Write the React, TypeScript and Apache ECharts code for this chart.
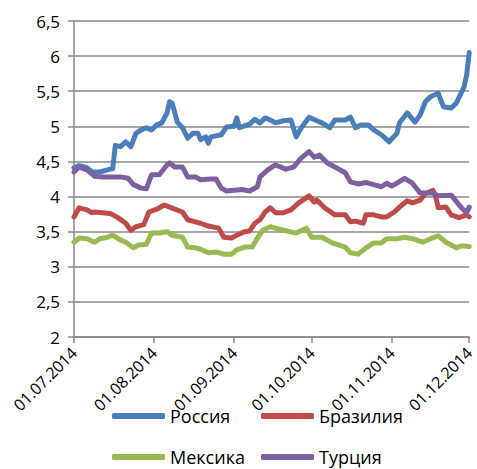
import React, { useEffect, useRef } from "react";
import * as echarts from "echarts";

const tickLabels = ["01.07.2014", "01.08.2014", "01.09.2014", "01.10.2014", "01.11.2014", "01.12.2014"];
const yTicks = { min: 2, max: 6.5, step: 0.5 };
const seriesNames = ["Россия", "Бразилия", "Мексика", "Турция"];
const seriesColors = ["#4A7EBB", "#BE4B48", "#98B954", "#7D60A0"];

const russia: [string, number][] = [
  ["2014-07-01", 4.41], ["2014-07-03", 4.44], ["2014-07-06", 4.41], ["2014-07-08", 4.35], ["2014-07-11", 4.35],
  ["2014-07-14", 4.38], ["2014-07-16", 4.40], ["2014-07-17", 4.73], ["2014-07-19", 4.71], ["2014-07-21", 4.78],
  ["2014-07-23", 4.71], ["2014-07-25", 4.90], ["2014-07-27", 4.95], ["2014-07-29", 4.98], ["2014-07-31", 4.95],
  ["2014-08-02", 5.02], ["2014-08-04", 5.05], ["2014-08-06", 5.19], ["2014-08-07", 5.35], ["2014-08-08", 5.33],
  ["2014-08-10", 5.06], ["2014-08-12", 4.98], ["2014-08-14", 4.83], ["2014-08-16", 4.90], ["2014-08-18", 4.90],
  ["2014-08-19", 4.81], ["2014-08-21", 4.85], ["2014-08-22", 4.76], ["2014-08-23", 4.85], ["2014-08-27", 4.88],
  ["2014-08-29", 4.99], ["2014-09-01", 5.00], ["2014-09-02", 5.12], ["2014-09-03", 4.98], ["2014-09-07", 5.03],
  ["2014-09-09", 5.10], ["2014-09-11", 5.05], ["2014-09-13", 5.12], ["2014-09-15", 5.09], ["2014-09-17", 5.05],
  ["2014-09-20", 5.08], ["2014-09-23", 5.09], ["2014-09-25", 4.85], ["2014-09-27", 4.98], ["2014-09-30", 5.13],
  ["2014-10-03", 5.08], ["2014-10-05", 5.05], ["2014-10-08", 4.98], ["2014-10-10", 5.09], ["2014-10-14", 5.09],
  ["2014-10-16", 5.13], ["2014-10-18", 4.98], ["2014-10-20", 5.02], ["2014-10-23", 5.02], ["2014-10-25", 4.95],
  ["2014-10-28", 4.88], ["2014-10-31", 4.78], ["2014-11-03", 4.90], ["2014-11-04", 5.05], ["2014-11-07", 5.19],
  ["2014-11-10", 5.06], ["2014-11-12", 5.16], ["2014-11-14", 5.35], ["2014-11-16", 5.42], ["2014-11-19", 5.47],
  ["2014-11-21", 5.28], ["2014-11-24", 5.26], ["2014-11-26", 5.33], ["2014-11-29", 5.56], ["2014-11-30", 5.73],
  ["2014-12-01", 6.05],
];

const brazil: [string, number][] = [
  ["2014-07-01", 3.71], ["2014-07-03", 3.84], ["2014-07-06", 3.81], ["2014-07-08", 3.77], ["2014-07-09", 3.78],
  ["2014-07-12", 3.77], ["2014-07-15", 3.76], ["2014-07-18", 3.70], ["2014-07-21", 3.62], ["2014-07-23", 3.52],
  ["2014-07-25", 3.57], ["2014-07-28", 3.60], ["2014-07-30", 3.78], ["2014-08-02", 3.82], ["2014-08-05", 3.88],
  ["2014-08-07", 3.85], ["2014-08-12", 3.78], ["2014-08-14", 3.67], ["2014-08-17", 3.64], ["2014-08-19", 3.62],
  ["2014-08-22", 3.58], ["2014-08-26", 3.55], ["2014-08-28", 3.42], ["2014-08-31", 3.41], ["2014-09-02", 3.45],
  ["2014-09-05", 3.50], ["2014-09-07", 3.51], ["2014-09-09", 3.62], ["2014-09-11", 3.67], ["2014-09-13", 3.78],
  ["2014-09-15", 3.84], ["2014-09-17", 3.77], ["2014-09-20", 3.77], ["2014-09-23", 3.81], ["2014-09-26", 3.91],
  ["2014-09-30", 4.01], ["2014-10-02", 3.92], ["2014-10-03", 3.95], ["2014-10-06", 3.84], ["2014-10-10", 3.74],
  ["2014-10-14", 3.74], ["2014-10-16", 3.64], ["2014-10-18", 3.65], ["2014-10-21", 3.62], ["2014-10-22", 3.74],
  ["2014-10-25", 3.74], ["2014-10-28", 3.71], ["2014-10-30", 3.71], ["2014-11-02", 3.78], ["2014-11-04", 3.85],
  ["2014-11-07", 3.94], ["2014-11-09", 3.91], ["2014-11-12", 3.95], ["2014-11-14", 4.04], ["2014-11-17", 4.09],
  ["2014-11-18", 4.00], ["2014-11-19", 3.84], ["2014-11-22", 3.85], ["2014-11-24", 3.74], ["2014-11-27", 3.70],
  ["2014-11-30", 3.74], ["2014-12-01", 3.71],
];

const mexico: [string, number][] = [
  ["2014-07-01", 3.35], ["2014-07-03", 3.41], ["2014-07-06", 3.40], ["2014-07-09", 3.35], ["2014-07-11", 3.40],
  ["2014-07-14", 3.42], ["2014-07-16", 3.45], ["2014-07-19", 3.38], ["2014-07-21", 3.35], ["2014-07-24", 3.27],
  ["2014-07-26", 3.31], ["2014-07-29", 3.32], ["2014-07-31", 3.48], ["2014-08-03", 3.48], ["2014-08-06", 3.50],
  ["2014-08-08", 3.45], ["2014-08-12", 3.42], ["2014-08-14", 3.28], ["2014-08-17", 3.27], ["2014-08-19", 3.25],
  ["2014-08-22", 3.20], ["2014-08-25", 3.21], ["2014-08-28", 3.18], ["2014-08-31", 3.18], ["2014-09-02", 3.24],
  ["2014-09-05", 3.28], ["2014-09-08", 3.28], ["2014-09-10", 3.41], ["2014-09-12", 3.52], ["2014-09-15", 3.57],
  ["2014-09-19", 3.53], ["2014-09-25", 3.48], ["2014-09-29", 3.55], ["2014-10-01", 3.42], ["2014-10-05", 3.42],
  ["2014-10-09", 3.34], ["2014-10-14", 3.28], ["2014-10-16", 3.20], ["2014-10-19", 3.18], ["2014-10-22", 3.27],
  ["2014-10-25", 3.34], ["2014-10-28", 3.34], ["2014-10-30", 3.40], ["2014-11-03", 3.40], ["2014-11-06", 3.42],
  ["2014-11-09", 3.40], ["2014-11-13", 3.35], ["2014-11-16", 3.40], ["2014-11-19", 3.44], ["2014-11-22", 3.35],
  ["2014-11-26", 3.27], ["2014-11-28", 3.30], ["2014-12-01", 3.29],
];

const turkey: [string, number][] = [
  ["2014-07-01", 4.35], ["2014-07-03", 4.42], ["2014-07-06", 4.38], ["2014-07-09", 4.29], ["2014-07-12", 4.28],
  ["2014-07-16", 4.28], ["2014-07-19", 4.28], ["2014-07-22", 4.26], ["2014-07-24", 4.17], ["2014-07-27", 4.12],
  ["2014-07-29", 4.11], ["2014-07-31", 4.31], ["2014-08-03", 4.31], ["2014-08-06", 4.45], ["2014-08-07", 4.48],
  ["2014-08-09", 4.42], ["2014-08-12", 4.42], ["2014-08-14", 4.28], ["2014-08-17", 4.28], ["2014-08-19", 4.24],
  ["2014-08-23", 4.25], ["2014-08-25", 4.25], ["2014-08-27", 4.12], ["2014-08-29", 4.08], ["2014-09-01", 4.09],
  ["2014-09-04", 4.10], ["2014-09-07", 4.08], ["2014-09-10", 4.14], ["2014-09-11", 4.28], ["2014-09-14", 4.38],
  ["2014-09-17", 4.45], ["2014-09-21", 4.39], ["2014-09-24", 4.42], ["2014-09-27", 4.55], ["2014-09-30", 4.64],
  ["2014-10-02", 4.56], ["2014-10-04", 4.59], ["2014-10-07", 4.48], ["2014-10-10", 4.42], ["2014-10-14", 4.34],
  ["2014-10-16", 4.21], ["2014-10-19", 4.18], ["2014-10-22", 4.20], ["2014-10-25", 4.17], ["2014-10-28", 4.14],
  ["2014-10-30", 4.19], ["2014-11-01", 4.15], ["2014-11-03", 4.19], ["2014-11-06", 4.26], ["2014-11-09", 4.19],
  ["2014-11-12", 4.05], ["2014-11-17", 4.05], ["2014-11-19", 4.01], ["2014-11-24", 4.02], ["2014-11-28", 3.84],
  ["2014-11-30", 3.77], ["2014-12-01", 3.85],
];

const seriesData = [russia, brazil, mexico, turkey];

const START = Date.UTC(2014, 6, 1);
function dayFromIso(s: string): number {
  const [y, m, d] = s.split("-").map(Number);
  return Math.round((Date.UTC(y, m - 1, d) - START) / 86400000);
}
function dayFromLabel(s: string): number {
  const [d, m, y] = s.split(".").map(Number);
  return Math.round((Date.UTC(y, m - 1, d) - START) / 86400000);
}

const FONT = "'Open Sans', 'Noto Sans', sans-serif";
const GRAY = "#878787";

export default function App() {
  const ref = useRef<HTMLDivElement>(null);
  useEffect(() => {
    document.body.style.margin = "0";
    if (!ref.current) return;
    const chart = echarts.init(ref.current, null, { renderer: "svg" });
    const tickDays = tickLabels.map(dayFromLabel);
    const legendPos = [
      { left: 112, top: 407 },
      { left: 261, top: 407 },
      { left: 112, top: 448 },
      { left: 261, top: 448 },
    ];
    chart.setOption({
      animation: false,
      backgroundColor: "#ffffff",
      textStyle: { fontFamily: FONT },
      grid: { left: 74, right: 3, top: 21, bottom: 132, containLabel: false },
      legend: seriesNames.map((n, i) => ({
        data: [n],
        left: legendPos[i].left,
        top: legendPos[i].top,
        icon: "roundRect",
        itemWidth: 53,
        itemHeight: 6,
        itemGap: 5,
        padding: 0,
        textStyle: { fontSize: 18, color: "#000", fontFamily: FONT },
      })),
      xAxis: {
        type: "value",
        min: tickDays[0],
        max: tickDays[tickDays.length - 1],
        splitLine: { show: false },
        axisLine: { show: true, lineStyle: { color: GRAY, width: 1.5 } },
        axisTick: { show: true, customValues: tickDays, length: 6, lineStyle: { color: GRAY, width: 1.5 } },
        axisLabel: {
          customValues: tickDays,
          rotate: 45,
          margin: 13,
          fontSize: 16,
          color: "#000",
          fontFamily: FONT,
          formatter: (v: number) => {
            const idx = tickDays.indexOf(Math.round(v));
            return idx >= 0 ? tickLabels[idx] : "";
          },
        },
      },
      yAxis: {
        type: "value",
        min: yTicks.min,
        max: yTicks.max,
        interval: yTicks.step,
        axisLine: { show: true, lineStyle: { color: GRAY, width: 1.5 } },
        axisTick: { show: true, length: 6, lineStyle: { color: GRAY, width: 1.5 } },
        splitLine: { show: true, lineStyle: { color: GRAY, width: 1.5 } },
        axisLabel: {
          fontSize: 17,
          color: "#000",
          margin: 14,
          fontFamily: FONT,
          formatter: (v: number) => String(v).replace(".", ","),
        },
      },
      series: seriesNames.map((n, i) => ({
        name: n,
        type: "line",
        showSymbol: false,
        symbol: "none",
        color: seriesColors[i],
        lineStyle: { width: 5, color: seriesColors[i], cap: "round", join: "round" },
        data: seriesData[i].map(([d, v]) => [dayFromIso(d), v]),
      })),
    });
    return () => chart.dispose();
  }, []);
  return <div ref={ref} style={{ width: 477, height: 469 }} />;
}
